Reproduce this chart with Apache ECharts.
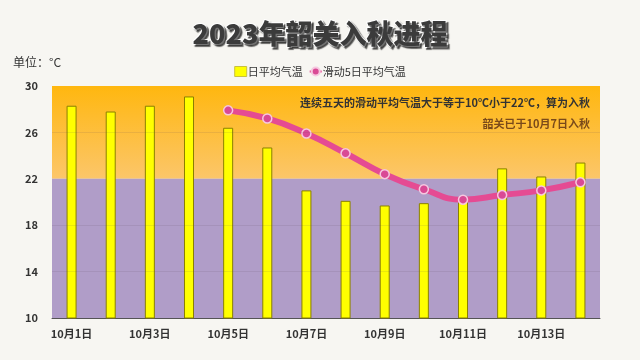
<!DOCTYPE html>
<html>
<head>
<meta charset="utf-8">
<script src="https://cdn.jsdelivr.net/npm/echarts@6/dist/echarts.min.js"></script>
<style>
html,body{margin:0;padding:0;background:#f7f6f2;}
#c{width:640px;height:360px;}
</style>
</head>
<body>
<div id="c"></div>
<script>
const categories = ['10月1日','10月2日','10月3日','10月4日','10月5日','10月6日','10月7日','10月8日','10月9日','10月10日','10月11日','10月12日','10月13日','10月14日'];
const dailyAvg = [28.3, 27.8, 28.3, 29.1, 26.4, 24.7, 21.0, 20.1, 19.7, 19.9, 20.1, 22.9, 22.2, 23.4];
const moving5 = [null, null, null, null, 27.9, 27.2, 25.9, 24.2, 22.4, 21.1, 20.2, 20.6, 21.0, 21.7];
const yMin = 10, yMax = 30, yInterval = 4;
const autumnUpper = 22;

const font = '"Noto Sans CJK SC", "Noto Sans", sans-serif';
const chart = echarts.init(document.getElementById('c'));
chart.setOption({
  backgroundColor: '#f7f6f2',
  animation: false,
  textStyle: { fontFamily: font },
  title: [
    { text: '2023年韶关入秋进程', left: 'center', top: 15,
      textStyle: { fontFamily: font, fontSize: 27, fontWeight: 900, color: '#3b3b3b',
        textBorderColor: '#ffffff', textBorderWidth: 2,
        textShadowColor: 'rgba(0,0,0,0.55)', textShadowOffsetX: 2, textShadowOffsetY: 2, textShadowBlur: 1 } },
    { text: '单位：°C', left: 8, top: 51,
      textStyle: { fontFamily: font, fontSize: 12, fontWeight: 'normal', color: '#333' } },
    { text: '连续五天的滑动平均气温大于等于10℃小于22℃，算为入秋', right: 45, top: 92,
      textStyle: { fontFamily: font, fontSize: 11, fontWeight: 'bold', color: '#333' } },
    { text: '韶关已于10月7日入秋', right: 45, top: 113,
      textStyle: { fontFamily: font, fontSize: 11, fontWeight: 'bold', color: '#7a4a1a' } }
  ],
  legend: {
    top: 61, left: 'center', itemGap: 6, itemWidth: 12, itemHeight: 10,
    data: [
      { name: '日平均气温', icon: 'rect', itemStyle: { color: '#ffff00', borderColor: '#c8c040', borderWidth: 1 } },
      { name: '滑动5日平均气温' }
    ],
    textStyle: { fontFamily: font, fontSize: 11, color: '#333', padding: [0, 0, 0, -4] }
  },
  grid: { left: 52, right: 40, top: 86, bottom: 42 },
  xAxis: {
    type: 'category', data: categories,
    axisLine: { lineStyle: { color: '#555', width: 1 } },
    axisTick: { show: false },
    axisLabel: { interval: 1, fontSize: 11, fontWeight: 'bold', color: '#333', margin: 10 }
  },
  yAxis: {
    type: 'value', min: yMin, max: yMax, interval: yInterval,
    axisLine: { show: false }, axisTick: { show: false },
    splitLine: { show: false },
    axisLabel: { fontSize: 11, fontWeight: 'bold', color: '#333', margin: 14 }
  },
  series: [
    {
      name: 'bg', type: 'line', data: categories.map(() => null), z: 0, silent: true,
      showSymbol: false,
      markArea: {
        silent: true,
        data: [
          [{ yAxis: autumnUpper, itemStyle: { color: new echarts.graphic.LinearGradient(0, 0, 0, 1, [
              { offset: 0, color: '#ffb70f' }, { offset: 1, color: '#fcc66a' }]) } }, { yAxis: yMax }],
          [{ yAxis: yMin, itemStyle: { color: '#b09dc8' } }, { yAxis: autumnUpper }]
        ]
      },
      markLine: {
        silent: true, symbol: 'none', label: { show: false },
        lineStyle: { color: 'rgba(90,70,90,0.12)', type: 'solid', width: 1 },
        data: [{ yAxis: 14 }, { yAxis: 18 }, { yAxis: 26 }]
      }
    },
    {
      name: '日平均气温', type: 'bar', data: dailyAvg, barWidth: 10, z: 2,
      itemStyle: { color: '#ffff00', borderColor: '#8a8000', borderWidth: 1 }
    },
    {
      name: '滑动5日平均气温', type: 'line', data: moving5, smooth: 0.5, z: 3,
      symbol: 'circle', symbolSize: 9,
      lineStyle: { color: '#e54b93', width: 6 },
      itemStyle: { color: '#d94a95', borderColor: '#f6c8e0', borderWidth: 1.5 }
    }
  ]
});
</script>
</body>
</html>
